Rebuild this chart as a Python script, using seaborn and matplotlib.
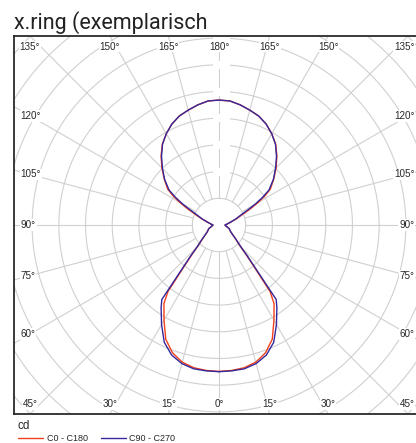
import numpy as np
import pandas as pd
import seaborn as sns
import matplotlib.pyplot as plt
from matplotlib.patches import Rectangle

# gamma angle in degrees (0 = straight down, 180 = straight up)
angles = [0, 5, 10, 15, 20, 25, 30, 35, 37.5, 40, 42.5, 45, 50, 55, 60, 65, 70, 75, 80, 85, 90,
          95, 100, 105, 110, 115, 117.5, 120, 122.5, 125, 130, 135, 140, 145, 150, 155, 160,
          165, 170, 175, 180]
cd_c0_c180 = [109.7, 109.4, 108.6, 106.4, 101.9, 94.4, 82.4, 71.9, 62.9, 41.2, 30.0, 22.5,
              16.1, 12.4, 10.1, 9.0, 8.2, 6.7, 5.6, 4.9, 4.5,
              5.6, 7.1, 9.7, 14.2, 21.0, 27.0, 34.0, 41.0, 47.0, 53.5, 60.5, 67.5, 74.0, 79.0,
              83.5, 86.9, 89.1, 91.4, 93.3, 93.6]
cd_c90_c270 = [109.9, 109.7, 109.4, 107.5, 103.7, 97.0, 86.1, 75.6, 70.4, 43.4, 31.5, 23.2,
               16.5, 12.4, 10.1, 9.0, 8.2, 6.7, 5.6, 4.9, 4.5,
               5.6, 7.1, 9.5, 13.5, 18.7, 24.0, 31.5, 38.9, 45.7, 53.2, 59.9, 67.0, 73.8, 79.0,
               83.5, 86.9, 89.1, 91.4, 93.3, 93.6]
planes = ['C0 - C180', 'C90 - C270']
ring_values = [20, 40, 60, 80, 100, 120, 140, 160, 180, 200]
label_angles = [0, 15, 30, 45, 60, 75, 90, 105, 120, 135, 150, 165, 180]

colors = {'C0 - C180': '#f2401c', 'C90 - C270': '#34289c'}
grid_col = '#d0d0d0'
XL, YL = 153.6, 141.6   # half width / half height of the frame in cd


def to_frame(values, plane):
    th = np.radians(angles)
    r = np.array(values)
    # right half (C0 / C90) then left half back down (C180 / C270)
    x = np.concatenate([r * np.sin(th), (-r * np.sin(th))[::-1]])
    y = np.concatenate([-r * np.cos(th), (-r * np.cos(th))[::-1]])
    return pd.DataFrame({'x': x, 'y': y, 'plane': plane})


df = pd.concat([to_frame(cd_c0_c180, planes[0]), to_frame(cd_c90_c270, planes[1])],
               ignore_index=True)

sns.set_style('white')
plt.rcParams['font.family'] = ['Liberation Sans', 'DejaVu Sans']

fig = plt.figure(figsize=(4.16, 4.43), dpi=100)
ax = fig.add_axes([14 / 416, 29 / 443, 410 / 416, 378 / 443])
ax.set_xlim(-XL, XL)
ax.set_ylim(-YL, YL)

# rings
t = np.linspace(0, 2 * np.pi, 721)
for rv in ring_values:
    ax.plot(rv * np.cos(t), rv * np.sin(t), color=grid_col, lw=0.8, zorder=1)

# radial lines every 15 deg, starting at the first ring
for a in label_angles:
    for side in ([1] if a in (0, 180) else [1, -1]):
        th = np.radians(a)
        ax.plot([side * 20 * np.sin(th), side * 400 * np.sin(th)],
                [-20 * np.cos(th), -400 * np.cos(th)], color=grid_col, lw=0.8, zorder=1)

# blank label boxes on the upper vertical axis
for rv in ring_values[1:7]:
    ax.add_patch(Rectangle((1.9 - 6.3, rv - 3), 12.6, 6, facecolor='white',
                           edgecolor='none', zorder=2))

sns.lineplot(data=df, x='x', y='y', hue='plane', palette=colors, sort=False,
             estimator=None, lw=1.0, ax=ax, zorder=5)
handles, labels = ax.get_legend_handles_labels()
ax.get_legend().remove()

# angle labels around the frame (right column kept just inside the picture)
x_right = XL - 7.2
lab_kw = dict(fontsize=7.1, color='#262626', va='center', zorder=6,
              bbox=dict(facecolor='white', edgecolor='none', pad=0.6))
for a in label_angles:
    th = np.radians(a)
    s, c = np.sin(th), np.cos(th)
    if a <= 45 or a >= 135:
        yy = -YL + 7.5 if a <= 45 else YL - 8.0
        xx = abs(YL / c) * s
        if a in (0, 180):
            ax.text(0, yy, f'{a}°', ha='center', **lab_kw)
        elif a in (45, 135):
            ax.text(-xx, yy, f'{a}°', ha='center', **lab_kw)
            ax.text(x_right, yy, f'{a}°', ha='right', **lab_kw)
        else:
            ax.text(-xx, yy, f'{a}°', ha='center', **lab_kw)
            ax.text(xx, yy, f'{a}°', ha='center', **lab_kw)
    else:
        yy = -YL / np.tan(th)
        ax.text(-XL + 5.0, yy, f'{a}°', ha='left', **lab_kw)
        ax.text(x_right, yy, f'{a}°', ha='right', **lab_kw)

ax.set_xticks([])
ax.set_yticks([])
ax.set_xlabel('')
ax.set_ylabel('')
for sp in ax.spines.values():
    sp.set_color('#2a2a2a')
    sp.set_linewidth(1.3)

fig.text(14 / 416, 1 - 28.5 / 443, 'x.ring (exemplarisch', fontsize=15.5,
         family=['Roboto', 'DejaVu Sans'], color='#222222', va='baseline')

fig.legend(handles, labels, title='cd', loc='upper left',
           bbox_to_anchor=(18 / 416, 1 - 420 / 443), ncol=2, frameon=False,
           fontsize=6.5, title_fontsize=8.5, alignment='left', handlelength=2.8,
           handletextpad=0.4, columnspacing=1.4, borderpad=0, borderaxespad=0,
           labelspacing=0.2)

fig.savefig('out.png', dpi=100)
